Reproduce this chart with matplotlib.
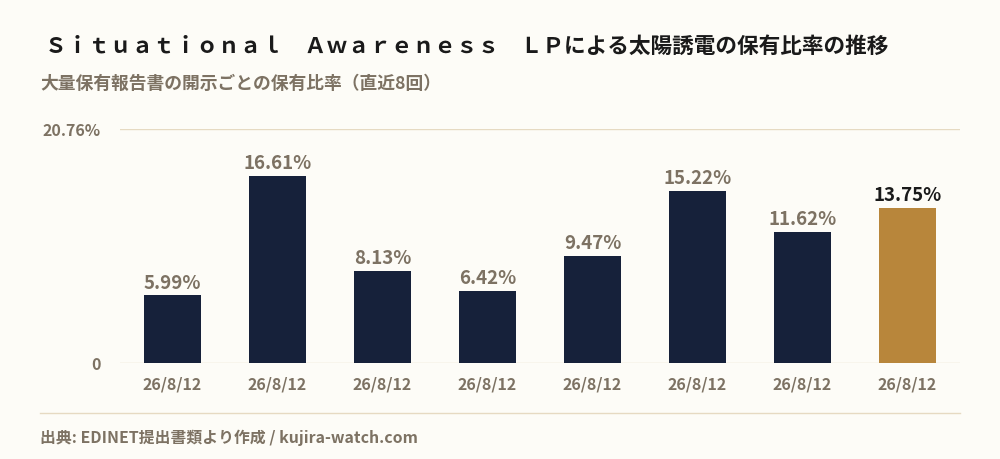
import matplotlib
matplotlib.use('Agg')
import matplotlib.pyplot as plt
import numpy as np

plt.rcParams['font.family'] = ['Noto Sans CJK JP', 'DejaVu Sans']

# data
dates = ['26/8/12'] * 8
ratios = [5.99, 16.61, 8.13, 6.42, 9.47, 15.22, 11.62, 13.75]
y_max = 20.76
title = 'Ｓｉｔｕａｔｉｏｎａｌ　Ａｗａｒｅｎｅｓｓ　ＬＰによる太陽誘電の保有比率の推移'
subtitle = '大量保有報告書の開示ごとの保有比率（直近8回）'
source = '出典: EDINET提出書類より作成 / kujira-watch.com'

bg = '#fdfcf7'
navy = '#16213a'
gold = '#b8863b'
muted = '#7d7263'
line_col = '#e6dac2'

fig = plt.figure(figsize=(10, 4.6), dpi=100)
fig.patch.set_facecolor(bg)
ax = fig.add_axes([0.12, 0.2087, 0.84, 0.5087])
ax.set_facecolor(bg)

x = np.arange(len(ratios))
colors = [navy] * (len(ratios) - 1) + [gold]
ax.bar(x, ratios, width=0.55, color=colors, zorder=3)

for i, v in enumerate(ratios):
    c = '#1a1a1a' if i == len(ratios) - 1 else muted
    ax.text(i, v + 0.35, f'{v:.2f}%', ha='center', va='bottom', color=c,
            fontsize=13.5, fontweight='bold')

ax.set_xlim(-0.5, len(ratios) - 0.5)
ax.set_ylim(0, y_max)
ax.set_yticks([0, y_max])
ax.set_yticklabels(['0', f'{y_max:.2f}%'])
ax.grid(axis='y', color=line_col, linewidth=1, zorder=0)
ax.set_xticks(x)
ax.set_xticklabels(dates)
ax.tick_params(length=0, colors=muted, labelsize=11.5)
ax.tick_params(axis='x', pad=9)
ax.tick_params(axis='y', pad=14)
for lab in ax.get_xticklabels() + ax.get_yticklabels():
    lab.set_fontweight('bold')
for s in ax.spines.values():
    s.set_visible(False)

fig.text(0.045, 0.9, title, fontsize=15.6, fontweight='bold', color='#1a1a1a', va='center')
fig.text(0.04, 0.818, subtitle, fontsize=12.8, fontweight='bold', color=muted, va='center')
fig.add_artist(plt.Line2D([0.04, 0.96], [1 - 414 / 460] * 2, color=line_col, linewidth=1))
fig.text(0.04, 1 - 438 / 460, source, fontsize=11.4, fontweight='bold', color=muted, va='center')

fig.savefig('out.png', dpi=100, facecolor=bg)
